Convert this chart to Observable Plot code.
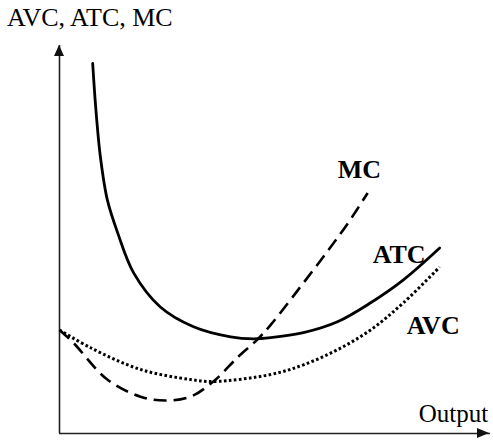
<!DOCTYPE html>
<html>
<head>
<meta charset="utf-8">
<script src="https://cdn.jsdelivr.net/npm/d3@7"></script>
<script src="https://cdn.jsdelivr.net/npm/@observablehq/plot@0.6"></script>
<style>
  html, body { margin: 0; padding: 0; background: #fff; }
  #wrap { width: 493px; height: 440px; position: relative; overflow: hidden; }
  #title { position: relative; height: 40px; }
  #title span { position: absolute; left: 7px; top: 5px; font-family: "Liberation Serif", "Times New Roman", serif; font-size: 26px; line-height: 26px; color: #000; white-space: nowrap; }
  svg { display: block; }
</style>
</head>
<body>
<div id="wrap">
  <div id="title"><span>AVC, ATC, MC</span></div>
  <div id="chart"></div>
</div>
<script>
// Output units (x) and cost units (y), both on an abstract 0–100 scale
const atcX = [7.7, 8.4, 9.5, 11.1, 13.5, 17.2, 23.4, 31.1, 39.7, 45.0, 49.0, 56.6, 64.5, 72.2, 79.8, 88.2];
const atcY = [95.4, 84.1, 71.2, 60.2, 51.7, 41.4, 32.6, 27.5, 24.9, 24.4, 24.7, 26.0, 28.8, 33.7, 39.6, 47.8];

const avcX = [0, 7.2, 18.8, 30.4, 35.7, 49.0, 56.6, 64.5, 72.2, 79.8, 88.2];
const avcY = [26.7, 22.1, 16.5, 13.9, 13.4, 15.2, 17.7, 21.6, 26.7, 33.7, 42.9];

const mcX = [0, 3.2, 11.1, 18.8, 24.6, 30.4, 35.7, 41.5, 45.9, 49.0, 55.9, 62.2, 66.8, 71.5];
const mcY = [26.7, 23.4, 13.9, 9.5, 8.5, 9.5, 13.4, 19.8, 24.2, 28.0, 37.8, 47.0, 54.0, 62.0];

const curveLabels = ["MC", "ATC", "AVC"];
const curveLabelX = [69.6, 78.8, 86.7];
const curveLabelY = [68.1, 46.0, 27.9];

const xAxisLabel = "Output";
const xAxisLabelPos = [91.4, 4.9];

const zip = (xs, ys) => xs.map((x, i) => ({x, y: ys[i]}));
const atc = zip(atcX, atcY);
const avc = zip(avcX, avcY);
const mc = zip(mcX, mcY);
const labels = curveLabels.map((t, i) => ({t, x: curveLabelX[i], y: curveLabelY[i]}));

function arrowheads(index, scales) {
  const {x, y} = scales;
  const x0 = x(0), y0 = y(0), yTop = y(100), xEnd = x(100);
  const g = d3.create("svg:g").attr("fill", "#111").attr("stroke", "none");
  g.append("path").attr("d", `M${x0},${yTop}L${x0 - 5},${yTop + 11}L${x0 + 5},${yTop + 11}Z`);
  g.append("path").attr("d", `M${xEnd - 1},${y0}L${xEnd - 13},${y0 - 5}L${xEnd - 13},${y0 + 5}Z`);
  return g.node();
}

const chart = Plot.plot({
  width: 493,
  height: 400,
  marginLeft: 59,
  marginRight: 3,
  marginTop: 5,
  marginBottom: 7,
  x: {domain: [0, 100], axis: null},
  y: {domain: [0, 100], axis: null},
  style: {fontFamily: "'Liberation Serif', 'Times New Roman', serif", background: "#fff", color: "#000"},
  marks: [
    Plot.ruleX([0], {stroke: "#222", strokeWidth: 1.6}),
    Plot.ruleY([0], {stroke: "#222", strokeWidth: 1.6}),
    arrowheads,
    Plot.text(labels, {x: "x", y: "y", text: "t", fontSize: 26, fontWeight: "bold", fill: "#000"}),
    Plot.text([xAxisLabel], {x: xAxisLabelPos[0], y: xAxisLabelPos[1], text: d => d, fontSize: 25, fill: "#000"}),
    Plot.line(avc, {x: "x", y: "y", curve: "catmull-rom", stroke: "#000", strokeWidth: 3, strokeDasharray: "2.6,2.4", strokeLinecap: "butt"}),
    Plot.line(mc, {x: "x", y: "y", curve: "catmull-rom", stroke: "#000", strokeWidth: 2.6, strokeDasharray: "13,7", strokeLinecap: "butt"}),
    Plot.line(atc, {x: "x", y: "y", curve: "catmull-rom", stroke: "#000", strokeWidth: 2.8})
  ]
});
document.getElementById("chart").appendChild(chart);
</script>
</body>
</html>
